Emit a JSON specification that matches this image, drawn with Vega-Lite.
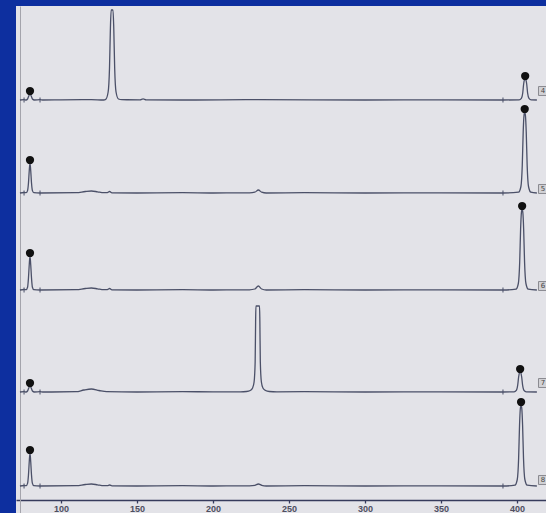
{
"$schema":"https://vega.github.io/schema/vega-lite/v6.json",
"width":530,"height":507,
"autosize":{"type":"none"},
"padding":{"left":16,"top":6,"right":0,"bottom":0},
"background":"#0d2f9f",
"config":{"view":{"fill":"#e3e3e8","stroke":null}},
"datasets":{"tr":[
{"lane":1,"kind":"trace","x":73,"y":0},{"lane":1,"kind":"trace","x":75.7,"y":0.3},{"lane":1,"kind":"trace","x":77,"y":0},{"lane":1,"kind":"trace","x":78,"y":1},{"lane":1,"kind":"trace","x":78.8,"y":4},{"lane":1,"kind":"trace","x":79.6,"y":6},{"lane":1,"kind":"trace","x":80.4,"y":4},{"lane":1,"kind":"trace","x":81.2,"y":1},{"lane":1,"kind":"trace","x":82.5,"y":0},{"lane":1,"kind":"trace","x":86.2,"y":0.3},{"lane":1,"kind":"trace","x":88,"y":0},{"lane":1,"kind":"trace","x":100,"y":0.2},{"lane":1,"kind":"trace","x":120,"y":0.4},{"lane":1,"kind":"trace","x":128,"y":0},{"lane":1,"kind":"trace","x":129.4,"y":0.6},{"lane":1,"kind":"trace","x":131,"y":8},{"lane":1,"kind":"trace","x":131.9,"y":32},{"lane":1,"kind":"trace","x":132.5,"y":72},{"lane":1,"kind":"trace","x":133,"y":90},{"lane":1,"kind":"trace","x":134.2,"y":90},{"lane":1,"kind":"trace","x":134.7,"y":72},{"lane":1,"kind":"trace","x":135.3,"y":32},{"lane":1,"kind":"trace","x":136.2,"y":8},{"lane":1,"kind":"trace","x":137.8,"y":1},{"lane":1,"kind":"trace","x":140,"y":0.3},{"lane":1,"kind":"trace","x":152,"y":0.2},{"lane":1,"kind":"trace","x":154,"y":1.2},{"lane":1,"kind":"trace","x":156,"y":0.2},{"lane":1,"kind":"trace","x":180,"y":0},{"lane":1,"kind":"trace","x":230,"y":0.3},{"lane":1,"kind":"trace","x":300,"y":0},{"lane":1,"kind":"trace","x":350,"y":0.2},{"lane":1,"kind":"trace","x":390.7,"y":0},{"lane":1,"kind":"trace","x":401.3,"y":0.2},{"lane":1,"kind":"trace","x":402.8,"y":1.7},{"lane":1,"kind":"trace","x":403.7,"y":7},{"lane":1,"kind":"trace","x":404.3,"y":16},{"lane":1,"kind":"trace","x":404.8,"y":20},{"lane":1,"kind":"trace","x":405.3,"y":21},{"lane":1,"kind":"trace","x":405.8,"y":20},{"lane":1,"kind":"trace","x":406.3,"y":16},{"lane":1,"kind":"trace","x":406.9,"y":7},{"lane":1,"kind":"trace","x":407.8,"y":1.7},{"lane":1,"kind":"trace","x":409.3,"y":0.2},{"lane":1,"kind":"trace","x":413,"y":0},

{"lane":2,"kind":"trace","x":73,"y":0},{"lane":2,"kind":"trace","x":75.7,"y":0.5},{"lane":2,"kind":"trace","x":77.1,"y":0.3},{"lane":2,"kind":"trace","x":78,"y":2.4},{"lane":2,"kind":"trace","x":78.6,"y":10},{"lane":2,"kind":"trace","x":79.1,"y":22},{"lane":2,"kind":"trace","x":79.6,"y":30},{"lane":2,"kind":"trace","x":80.1,"y":22},{"lane":2,"kind":"trace","x":80.6,"y":10},{"lane":2,"kind":"trace","x":81.2,"y":2.4},{"lane":2,"kind":"trace","x":82.1,"y":0.3},{"lane":2,"kind":"trace","x":86.2,"y":0},{"lane":2,"kind":"trace","x":110,"y":0.3},{"lane":2,"kind":"trace","x":116,"y":1.5},{"lane":2,"kind":"trace","x":120,"y":2},{"lane":2,"kind":"trace","x":124,"y":1.2},{"lane":2,"kind":"trace","x":128,"y":0.3},{"lane":2,"kind":"trace","x":130.5,"y":0.3},{"lane":2,"kind":"trace","x":132,"y":1.5},{"lane":2,"kind":"trace","x":133.5,"y":0.2},{"lane":2,"kind":"trace","x":150,"y":0},{"lane":2,"kind":"trace","x":180,"y":0.3},{"lane":2,"kind":"trace","x":200,"y":0},{"lane":2,"kind":"trace","x":224,"y":0.2},{"lane":2,"kind":"trace","x":227.5,"y":0.8},{"lane":2,"kind":"trace","x":229.8,"y":3},{"lane":2,"kind":"trace","x":232,"y":0.8},{"lane":2,"kind":"trace","x":235,"y":0},{"lane":2,"kind":"trace","x":260,"y":0.3},{"lane":2,"kind":"trace","x":300,"y":0},{"lane":2,"kind":"trace","x":350,"y":0.2},{"lane":2,"kind":"trace","x":390.7,"y":0},{"lane":2,"kind":"trace","x":401,"y":0.8},{"lane":2,"kind":"trace","x":402.5,"y":6.5},{"lane":2,"kind":"trace","x":403.4,"y":28},{"lane":2,"kind":"trace","x":404,"y":61},{"lane":2,"kind":"trace","x":404.5,"y":77},{"lane":2,"kind":"trace","x":405,"y":81},{"lane":2,"kind":"trace","x":405.5,"y":77},{"lane":2,"kind":"trace","x":406,"y":61},{"lane":2,"kind":"trace","x":406.6,"y":28},{"lane":2,"kind":"trace","x":407.5,"y":6.5},{"lane":2,"kind":"trace","x":409,"y":0.8},{"lane":2,"kind":"trace","x":413,"y":0},

{"lane":3,"kind":"trace","x":73,"y":0},{"lane":3,"kind":"trace","x":75.7,"y":0.5},{"lane":3,"kind":"trace","x":77.1,"y":0.3},{"lane":3,"kind":"trace","x":78,"y":2.7},{"lane":3,"kind":"trace","x":78.6,"y":12},{"lane":3,"kind":"trace","x":79.1,"y":25},{"lane":3,"kind":"trace","x":79.6,"y":34},{"lane":3,"kind":"trace","x":80.1,"y":25},{"lane":3,"kind":"trace","x":80.6,"y":12},{"lane":3,"kind":"trace","x":81.2,"y":2.7},{"lane":3,"kind":"trace","x":82.1,"y":0.3},{"lane":3,"kind":"trace","x":86.2,"y":0},{"lane":3,"kind":"trace","x":110,"y":0.3},{"lane":3,"kind":"trace","x":116,"y":1.5},{"lane":3,"kind":"trace","x":120,"y":2},{"lane":3,"kind":"trace","x":124,"y":1.2},{"lane":3,"kind":"trace","x":128,"y":0.3},{"lane":3,"kind":"trace","x":130.5,"y":0.3},{"lane":3,"kind":"trace","x":132,"y":1.5},{"lane":3,"kind":"trace","x":133.5,"y":0.2},{"lane":3,"kind":"trace","x":150,"y":0},{"lane":3,"kind":"trace","x":180,"y":0.3},{"lane":3,"kind":"trace","x":200,"y":0},{"lane":3,"kind":"trace","x":224,"y":0.2},{"lane":3,"kind":"trace","x":227.5,"y":1},{"lane":3,"kind":"trace","x":229.8,"y":4},{"lane":3,"kind":"trace","x":232,"y":1},{"lane":3,"kind":"trace","x":235,"y":0},{"lane":3,"kind":"trace","x":260,"y":0.3},{"lane":3,"kind":"trace","x":300,"y":0},{"lane":3,"kind":"trace","x":350,"y":0.2},{"lane":3,"kind":"trace","x":390.7,"y":0},{"lane":3,"kind":"trace","x":399.3,"y":0.8},{"lane":3,"kind":"trace","x":400.8,"y":6.5},{"lane":3,"kind":"trace","x":401.7,"y":28},{"lane":3,"kind":"trace","x":402.3,"y":61},{"lane":3,"kind":"trace","x":402.8,"y":77},{"lane":3,"kind":"trace","x":403.3,"y":81},{"lane":3,"kind":"trace","x":403.8,"y":77},{"lane":3,"kind":"trace","x":404.3,"y":61},{"lane":3,"kind":"trace","x":404.9,"y":28},{"lane":3,"kind":"trace","x":405.8,"y":6.5},{"lane":3,"kind":"trace","x":407.3,"y":0.8},{"lane":3,"kind":"trace","x":413,"y":0},

{"lane":4,"kind":"trace","x":73,"y":0},{"lane":4,"kind":"trace","x":75.7,"y":0.3},{"lane":4,"kind":"trace","x":77,"y":0},{"lane":4,"kind":"trace","x":78,"y":1},{"lane":4,"kind":"trace","x":78.8,"y":4},{"lane":4,"kind":"trace","x":79.6,"y":6},{"lane":4,"kind":"trace","x":80.4,"y":4},{"lane":4,"kind":"trace","x":81.2,"y":1},{"lane":4,"kind":"trace","x":82.5,"y":0},{"lane":4,"kind":"trace","x":86.2,"y":0.3},{"lane":4,"kind":"trace","x":88,"y":0},{"lane":4,"kind":"trace","x":110,"y":0.3},{"lane":4,"kind":"trace","x":115,"y":2},{"lane":4,"kind":"trace","x":120,"y":3},{"lane":4,"kind":"trace","x":125,"y":1.5},{"lane":4,"kind":"trace","x":130,"y":0.3},{"lane":4,"kind":"trace","x":150,"y":0},{"lane":4,"kind":"trace","x":180,"y":0.3},{"lane":4,"kind":"trace","x":200,"y":0.2},{"lane":4,"kind":"trace","x":218,"y":0.2},{"lane":4,"kind":"trace","x":222,"y":0.5},{"lane":4,"kind":"trace","x":224.5,"y":1.5},{"lane":4,"kind":"trace","x":226,"y":4},{"lane":4,"kind":"trace","x":227,"y":10},{"lane":4,"kind":"trace","x":227.7,"y":30},{"lane":4,"kind":"trace","x":228,"y":70},{"lane":4,"kind":"trace","x":228.2,"y":86},{"lane":4,"kind":"trace","x":230.6,"y":86},{"lane":4,"kind":"trace","x":230.8,"y":70},{"lane":4,"kind":"trace","x":231.1,"y":30},{"lane":4,"kind":"trace","x":231.8,"y":10},{"lane":4,"kind":"trace","x":232.8,"y":4},{"lane":4,"kind":"trace","x":234.5,"y":1.5},{"lane":4,"kind":"trace","x":237,"y":0.5},{"lane":4,"kind":"trace","x":242,"y":0.2},{"lane":4,"kind":"trace","x":260,"y":0.3},{"lane":4,"kind":"trace","x":300,"y":0},{"lane":4,"kind":"trace","x":350,"y":0.2},{"lane":4,"kind":"trace","x":390.7,"y":0},{"lane":4,"kind":"trace","x":398,"y":0.2},{"lane":4,"kind":"trace","x":399.5,"y":1.6},{"lane":4,"kind":"trace","x":400.4,"y":7},{"lane":4,"kind":"trace","x":401,"y":15},{"lane":4,"kind":"trace","x":401.5,"y":19},{"lane":4,"kind":"trace","x":402,"y":20},{"lane":4,"kind":"trace","x":402.5,"y":19},{"lane":4,"kind":"trace","x":403,"y":15},{"lane":4,"kind":"trace","x":403.6,"y":7},{"lane":4,"kind":"trace","x":404.5,"y":1.6},{"lane":4,"kind":"trace","x":406,"y":0.2},{"lane":4,"kind":"trace","x":413,"y":0},

{"lane":5,"kind":"trace","x":73,"y":0},{"lane":5,"kind":"trace","x":75.7,"y":0.5},{"lane":5,"kind":"trace","x":77.1,"y":0.3},{"lane":5,"kind":"trace","x":78,"y":2.6},{"lane":5,"kind":"trace","x":78.6,"y":11},{"lane":5,"kind":"trace","x":79.1,"y":24},{"lane":5,"kind":"trace","x":79.6,"y":33},{"lane":5,"kind":"trace","x":80.1,"y":24},{"lane":5,"kind":"trace","x":80.6,"y":11},{"lane":5,"kind":"trace","x":81.2,"y":2.6},{"lane":5,"kind":"trace","x":82.1,"y":0.3},{"lane":5,"kind":"trace","x":86.2,"y":0},{"lane":5,"kind":"trace","x":110,"y":0.3},{"lane":5,"kind":"trace","x":116,"y":1.5},{"lane":5,"kind":"trace","x":120,"y":2},{"lane":5,"kind":"trace","x":124,"y":1.2},{"lane":5,"kind":"trace","x":128,"y":0.3},{"lane":5,"kind":"trace","x":130.5,"y":0.3},{"lane":5,"kind":"trace","x":132,"y":1},{"lane":5,"kind":"trace","x":133.5,"y":0.2},{"lane":5,"kind":"trace","x":150,"y":0},{"lane":5,"kind":"trace","x":180,"y":0.3},{"lane":5,"kind":"trace","x":200,"y":0},{"lane":5,"kind":"trace","x":224,"y":0.2},{"lane":5,"kind":"trace","x":227.5,"y":0.7},{"lane":5,"kind":"trace","x":229.8,"y":2},{"lane":5,"kind":"trace","x":232,"y":0.7},{"lane":5,"kind":"trace","x":235,"y":0},{"lane":5,"kind":"trace","x":260,"y":0.3},{"lane":5,"kind":"trace","x":300,"y":0},{"lane":5,"kind":"trace","x":350,"y":0.2},{"lane":5,"kind":"trace","x":390.7,"y":0},{"lane":5,"kind":"trace","x":398.6,"y":0.8},{"lane":5,"kind":"trace","x":400.1,"y":6.5},{"lane":5,"kind":"trace","x":401,"y":28},{"lane":5,"kind":"trace","x":401.6,"y":61},{"lane":5,"kind":"trace","x":402.1,"y":77},{"lane":5,"kind":"trace","x":402.6,"y":81},{"lane":5,"kind":"trace","x":403.1,"y":77},{"lane":5,"kind":"trace","x":403.6,"y":61},{"lane":5,"kind":"trace","x":404.2,"y":28},{"lane":5,"kind":"trace","x":405.1,"y":6.5},{"lane":5,"kind":"trace","x":406.6,"y":0.8},{"lane":5,"kind":"trace","x":413,"y":0},

{"lane":1,"kind":"dot","x":79.6,"y":9},{"lane":1,"kind":"dot","x":405.3,"y":24},
{"lane":2,"kind":"dot","x":79.6,"y":33},{"lane":2,"kind":"dot","x":405,"y":84},
{"lane":3,"kind":"dot","x":79.6,"y":37},{"lane":3,"kind":"dot","x":403.3,"y":84},
{"lane":4,"kind":"dot","x":79.6,"y":9},{"lane":4,"kind":"dot","x":402,"y":23},
{"lane":5,"kind":"dot","x":79.6,"y":36},{"lane":5,"kind":"dot","x":402.6,"y":84},

{"lane":1,"kind":"tick","x":75.7,"y":0},{"lane":1,"kind":"tick","x":86.2,"y":0},{"lane":1,"kind":"tick","x":390.7,"y":0},
{"lane":2,"kind":"tick","x":75.7,"y":0},{"lane":2,"kind":"tick","x":86.2,"y":0},{"lane":2,"kind":"tick","x":390.7,"y":0},
{"lane":3,"kind":"tick","x":75.7,"y":0},{"lane":3,"kind":"tick","x":86.2,"y":0},{"lane":3,"kind":"tick","x":390.7,"y":0},
{"lane":4,"kind":"tick","x":75.7,"y":0},{"lane":4,"kind":"tick","x":86.2,"y":0},{"lane":4,"kind":"tick","x":390.7,"y":0},
{"lane":5,"kind":"tick","x":75.7,"y":0},{"lane":5,"kind":"tick","x":86.2,"y":0},{"lane":5,"kind":"tick","x":390.7,"y":0},

{"lane":1,"kind":"label","x":417,"y":9,"text":"4"},
{"lane":2,"kind":"label","x":417,"y":4,"text":"5"},
{"lane":3,"kind":"label","x":417,"y":4,"text":"6"},
{"lane":4,"kind":"label","x":417,"y":9,"text":"7"},
{"lane":5,"kind":"label","x":417,"y":6,"text":"8"}
]},
"data":{"name":"tr"},
"encoding":{"x":{"field":"x","type":"quantitative","scale":{"domain":[70.4,419],"nice":false,"zero":false},
 "axis":{"title":null,"values":[100,150,200,250,300,350,400],"offset":-13,"tickSize":3,"labelPadding":1,"labelFontSize":9,"labelFont":"Liberation Sans","labelFontWeight":"bold","labelColor":"#4e4e60","domainColor":"#363b5c","domainWidth":1.4,"tickColor":"#363b5c","tickWidth":1.3,"grid":false}}},
"layer":[
{"transform":[{"filter":"datum.lane==1"}],
 "encoding":{"y":{"field":"y","type":"quantitative","scale":{"domain":[-413,94],"nice":false,"zero":false},"axis":{"title":null,"domain":true,"ticks":false,"labels":false,"grid":false,"offset":-4,"domainColor":"#a4a4ac"}}},
 "layer":[
  {"transform":[{"filter":"datum.kind=='trace'"}],"mark":{"type":"line","color":"#4b5068","strokeWidth":1.3,"interpolate":"monotone"}},
  {"transform":[{"filter":"datum.kind=='tick'"}],"mark":{"type":"rule","color":"#4b5068"},"encoding":{"y":{"datum":-2.5},"y2":{"datum":2.5}}},
  {"transform":[{"filter":"datum.kind=='dot'"}],"mark":{"type":"point","filled":true,"color":"#111111","size":68,"opacity":1}},
  {"transform":[{"filter":"datum.kind=='label'"}],"mark":{"type":"point","shape":"square","filled":true,"color":"#d2d2d6","stroke":"#8a8a90","strokeWidth":1,"size":80,"opacity":1}},
  {"transform":[{"filter":"datum.kind=='label'"}],"mark":{"type":"text","fontSize":7,"color":"#444444","font":"DejaVu Sans"},"encoding":{"text":{"field":"text"}}}
 ]},
{"transform":[{"filter":"datum.lane==2"}],
 "encoding":{"y":{"field":"y","type":"quantitative","scale":{"domain":[-320,187],"nice":false,"zero":false},"axis":null}},
 "layer":[
  {"transform":[{"filter":"datum.kind=='trace'"}],"mark":{"type":"line","color":"#4b5068","strokeWidth":1.3,"interpolate":"monotone"}},
  {"transform":[{"filter":"datum.kind=='tick'"}],"mark":{"type":"rule","color":"#4b5068"},"encoding":{"y":{"datum":-2.5},"y2":{"datum":2.5}}},
  {"transform":[{"filter":"datum.kind=='dot'"}],"mark":{"type":"point","filled":true,"color":"#111111","size":68,"opacity":1}},
  {"transform":[{"filter":"datum.kind=='label'"}],"mark":{"type":"point","shape":"square","filled":true,"color":"#d2d2d6","stroke":"#8a8a90","strokeWidth":1,"size":80,"opacity":1}},
  {"transform":[{"filter":"datum.kind=='label'"}],"mark":{"type":"text","fontSize":7,"color":"#444444","font":"DejaVu Sans"},"encoding":{"text":{"field":"text"}}}
 ]},
{"transform":[{"filter":"datum.lane==3"}],
 "encoding":{"y":{"field":"y","type":"quantitative","scale":{"domain":[-223,284],"nice":false,"zero":false},"axis":null}},
 "layer":[
  {"transform":[{"filter":"datum.kind=='trace'"}],"mark":{"type":"line","color":"#4b5068","strokeWidth":1.3,"interpolate":"monotone"}},
  {"transform":[{"filter":"datum.kind=='tick'"}],"mark":{"type":"rule","color":"#4b5068"},"encoding":{"y":{"datum":-2.5},"y2":{"datum":2.5}}},
  {"transform":[{"filter":"datum.kind=='dot'"}],"mark":{"type":"point","filled":true,"color":"#111111","size":68,"opacity":1}},
  {"transform":[{"filter":"datum.kind=='label'"}],"mark":{"type":"point","shape":"square","filled":true,"color":"#d2d2d6","stroke":"#8a8a90","strokeWidth":1,"size":80,"opacity":1}},
  {"transform":[{"filter":"datum.kind=='label'"}],"mark":{"type":"text","fontSize":7,"color":"#444444","font":"DejaVu Sans"},"encoding":{"text":{"field":"text"}}}
 ]},
{"transform":[{"filter":"datum.lane==4"}],
 "encoding":{"y":{"field":"y","type":"quantitative","scale":{"domain":[-121,386],"nice":false,"zero":false},"axis":null}},
 "layer":[
  {"transform":[{"filter":"datum.kind=='trace'"}],"mark":{"type":"line","color":"#4b5068","strokeWidth":1.3,"interpolate":"monotone"}},
  {"transform":[{"filter":"datum.kind=='tick'"}],"mark":{"type":"rule","color":"#4b5068"},"encoding":{"y":{"datum":-2.5},"y2":{"datum":2.5}}},
  {"transform":[{"filter":"datum.kind=='dot'"}],"mark":{"type":"point","filled":true,"color":"#111111","size":68,"opacity":1}},
  {"transform":[{"filter":"datum.kind=='label'"}],"mark":{"type":"point","shape":"square","filled":true,"color":"#d2d2d6","stroke":"#8a8a90","strokeWidth":1,"size":80,"opacity":1}},
  {"transform":[{"filter":"datum.kind=='label'"}],"mark":{"type":"text","fontSize":7,"color":"#444444","font":"DejaVu Sans"},"encoding":{"text":{"field":"text"}}}
 ]},
{"transform":[{"filter":"datum.lane==5"}],
 "encoding":{"y":{"field":"y","type":"quantitative","scale":{"domain":[-27,480],"nice":false,"zero":false},"axis":null}},
 "layer":[
  {"transform":[{"filter":"datum.kind=='trace'"}],"mark":{"type":"line","color":"#4b5068","strokeWidth":1.3,"interpolate":"monotone"}},
  {"transform":[{"filter":"datum.kind=='tick'"}],"mark":{"type":"rule","color":"#4b5068"},"encoding":{"y":{"datum":-2.5},"y2":{"datum":2.5}}},
  {"transform":[{"filter":"datum.kind=='dot'"}],"mark":{"type":"point","filled":true,"color":"#111111","size":68,"opacity":1}},
  {"transform":[{"filter":"datum.kind=='label'"}],"mark":{"type":"point","shape":"square","filled":true,"color":"#d2d2d6","stroke":"#8a8a90","strokeWidth":1,"size":80,"opacity":1}},
  {"transform":[{"filter":"datum.kind=='label'"}],"mark":{"type":"text","fontSize":7,"color":"#444444","font":"DejaVu Sans"},"encoding":{"text":{"field":"text"}}}
 ]}
],
"resolve":{"scale":{"y":"independent"},"axis":{"y":"independent"}}
}
